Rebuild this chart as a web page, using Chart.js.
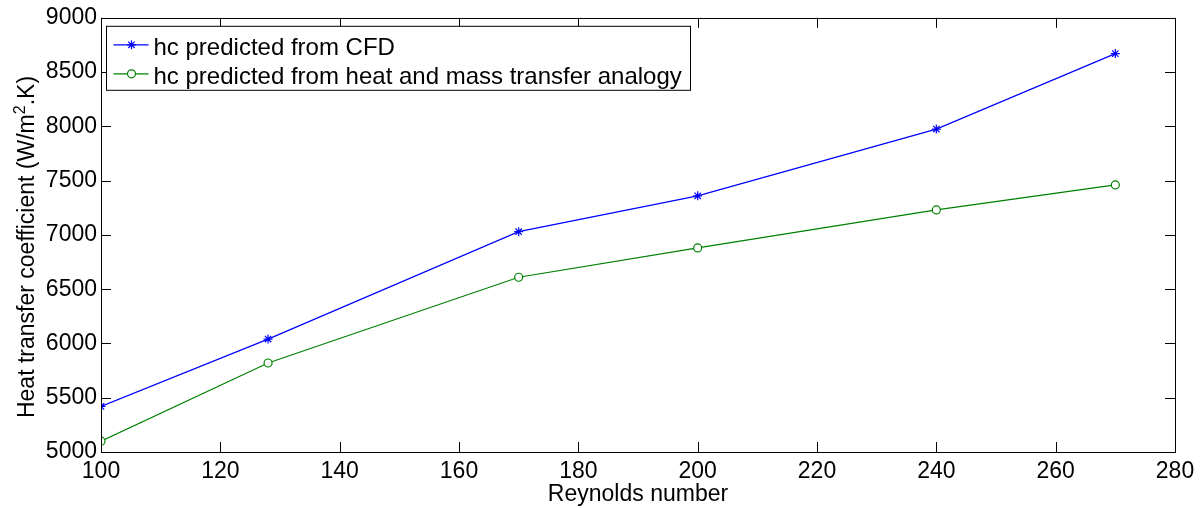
<!DOCTYPE html>
<html>
<head>
<meta charset="utf-8">
<script src="https://cdn.jsdelivr.net/npm/chart.js@4"></script>
<style>
	body { margin: 0; background: #fff; }
	#wrap { width: 1202px; height: 508px; }
</style>
</head>
<body>
<div id="wrap"><canvas id="hc"></canvas></div>
<script>
const reynolds = [100, 128, 170, 200, 240, 270];
const hcCfd = [5420, 6040, 7030, 7360, 7975, 8670];
const hcAnalogy = [5100, 5820, 6610, 6880, 7230, 7460];

const xTicks = [100, 120, 140, 160, 180, 200, 220, 240, 260, 280];
const yTicks = [5000, 5500, 6000, 6500, 7000, 7500, 8000, 8500, 9000];

const seriesNames = [
	"hc predicted from CFD",
	"hc predicted from heat and mass transfer analogy"
];
// y title is split around the superscript 2
const yTitleParts = ["Heat transfer coefficient (W/m", "2", ".K)"];
const xTitle = "Reynolds number";

const FONT = "'Liberation Sans', Arial, sans-serif";
const BLUE = "#0000ff";
const GREEN = "#008000";

// matlab style frame: box on all four sides with inward ticks
const frame = {
	id: "frame",
	afterDatasetsDraw(chart) {
		const { ctx, chartArea: a, scales } = chart;
		const len = 10;
		ctx.save();
		ctx.strokeStyle = "#000";
		ctx.lineWidth = 1;
		ctx.beginPath();
		xTicks.forEach((v) => {
			const x = Math.round(scales.x.getPixelForValue(v)) + 0.5;
			ctx.moveTo(x, a.bottom);
			ctx.lineTo(x, a.bottom - len);
			ctx.moveTo(x, a.top);
			ctx.lineTo(x, a.top + len);
		});
		yTicks.forEach((v) => {
			const y = Math.round(scales.y.getPixelForValue(v)) + 0.5;
			ctx.moveTo(a.left, y);
			ctx.lineTo(a.left + len, y);
			ctx.moveTo(a.right, y);
			ctx.lineTo(a.right - len, y);
		});
		ctx.stroke();
		ctx.strokeRect(Math.round(a.left) + 0.5, Math.round(a.top) + 0.5,
			Math.round(a.right - a.left), Math.round(a.bottom - a.top));

		// y axis title, rotated, with a raised 2
		const big = "23px " + FONT;
		const small = "16px " + FONT;
		ctx.fillStyle = "#000";
		ctx.textAlign = "left";
		ctx.textBaseline = "alphabetic";
		ctx.font = big;
		const w0 = ctx.measureText(yTitleParts[0]).width;
		const w2 = ctx.measureText(yTitleParts[2]).width;
		ctx.font = small;
		const w1 = ctx.measureText(yTitleParts[1]).width;
		let x = -(w0 + w1 + w2) / 2;
		ctx.translate(34, 247);
		ctx.rotate(-Math.PI / 2);
		ctx.font = big;
		ctx.fillText(yTitleParts[0], x, 0);
		x += w0;
		ctx.font = small;
		ctx.fillText(yTitleParts[1], x, -9);
		x += w1;
		ctx.font = big;
		ctx.fillText(yTitleParts[2], x, 0);
		ctx.restore();
	}
};

function drawMarker(ctx, style, x, y, color) {
	ctx.strokeStyle = color;
	ctx.beginPath();
	if (style === "circle") {
		ctx.fillStyle = "#fff";
		ctx.arc(x, y, 4, 0, Math.PI * 2);
		ctx.fill();
	} else {
		const r = 4.5;
		for (let i = 0; i < 4; i++) {
			const t = i * Math.PI / 4;
			ctx.moveTo(x - r * Math.cos(t), y - r * Math.sin(t));
			ctx.lineTo(x + r * Math.cos(t), y + r * Math.sin(t));
		}
	}
	ctx.stroke();
}

// boxed legend in the upper left corner of the axes
const boxLegend = {
	id: "boxLegend",
	afterDraw(chart) {
		const { ctx, chartArea: a } = chart;
		const left = a.left + 5.5;
		const top = a.top + 8.5;
		const rowY = [a.top + 27, a.top + 56];
		const textX = left + 47;
		ctx.save();
		ctx.font = "24px " + FONT;
		const w = Math.max(...seriesNames.map((s) => ctx.measureText(s).width));
		const boxW = Math.round(textX - left + w + 9);
		ctx.fillStyle = "#fff";
		ctx.fillRect(left, top, boxW, 64);
		ctx.strokeStyle = "#000";
		ctx.lineWidth = 1;
		ctx.strokeRect(left, top, boxW, 64);

		const entries = [
			{ color: BLUE, style: "star" },
			{ color: GREEN, style: "circle" }
		];
		entries.forEach((e, i) => {
			const y = rowY[i];
			ctx.strokeStyle = e.color;
			ctx.lineWidth = 1.2;
			ctx.beginPath();
			ctx.moveTo(left + 7, y);
			ctx.lineTo(left + 42, y);
			ctx.stroke();
			drawMarker(ctx, e.style, left + 25, y, e.color);
			ctx.fillStyle = "#000";
			ctx.textAlign = "left";
			ctx.textBaseline = "alphabetic";
			ctx.fillText(seriesNames[i], textX, y + 10);
		});
		ctx.restore();
	}
};

const toPoints = (ys) => reynolds.map((x, i) => ({ x: x, y: ys[i] }));

new Chart(document.getElementById("hc"), {
	type: "line",
	data: {
		datasets: [
			{
				label: seriesNames[0],
				data: toPoints(hcCfd),
				borderColor: BLUE,
				borderWidth: 1.2,
				pointStyle: "star",
				pointRadius: 4.5,
				pointBorderColor: BLUE,
				pointBorderWidth: 1.2,
				tension: 0
			},
			{
				label: seriesNames[1],
				data: toPoints(hcAnalogy),
				borderColor: GREEN,
				borderWidth: 1.2,
				pointStyle: "circle",
				pointRadius: 4,
				pointBorderColor: GREEN,
				pointBackgroundColor: "#fff",
				pointBorderWidth: 1.2,
				tension: 0
			}
		]
	},
	options: {
		responsive: true,
		maintainAspectRatio: false,
		animation: false,
		layout: { padding: { top: 16, right: 27, left: 0, bottom: 0 } },
		plugins: {
			legend: { display: false },
			tooltip: { enabled: false }
		},
		scales: {
			x: {
				type: "linear",
				min: 100,
				max: 280,
				afterFit: (s) => { s.height = 56; },
				afterBuildTicks: (s) => { s.ticks = xTicks.map((v) => ({ value: v })); },
				grid: { display: false, drawTicks: false },
				border: { display: false },
				ticks: {
					padding: 6,
					color: "#000",
					font: { family: FONT, size: 23 },
					maxRotation: 0,
					callback: (v) => String(v)
				},
				title: {
					display: true,
					text: xTitle,
					color: "#000",
					font: { family: FONT, size: 23 },
					padding: { top: 0, bottom: 0 }
				}
			},
			y: {
				min: 5000,
				max: 9000,
				afterFit: (s) => { s.width = 101; },
				afterBuildTicks: (s) => { s.ticks = yTicks.map((v) => ({ value: v })); },
				grid: { display: false, drawTicks: false },
				border: { display: false },
				ticks: {
					padding: 4,
					color: "#000",
					font: { family: FONT, size: 23 },
					callback: (v) => String(v)
				}
			}
		}
	},
	plugins: [frame, boxLegend]
});
</script>
</body>
</html>
